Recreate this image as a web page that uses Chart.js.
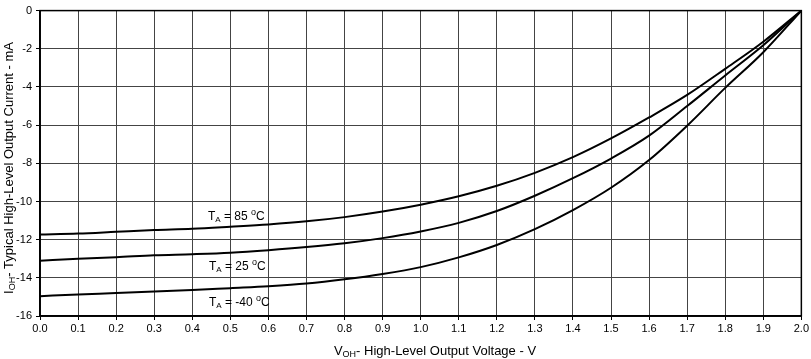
<!DOCTYPE html>
<html><head><meta charset="utf-8">
<script src="https://cdn.jsdelivr.net/npm/chart.js@4/dist/chart.umd.min.js"></script>
<style>html,body{margin:0;padding:0;background:#fff}#w{width:811px;height:359px;position:relative}</style>
</head><body><div id="w"><canvas id="c" width="811" height="359"></canvas></div>
<script>
const voltage = [0.0,0.1,0.2,0.3,0.4,0.5,0.6,0.7,0.8,0.9,1.0,1.1,1.2,1.3,1.4,1.5,1.6,1.7,1.8,1.9,2.0];
const current85 = [-11.73,-11.68,-11.59,-11.5,-11.43,-11.32,-11.2,-11.04,-10.82,-10.53,-10.17,-9.73,-9.18,-8.5,-7.68,-6.7,-5.6,-4.42,-3.05,-1.63,0];
const current25 = [-13.1,-13.0,-12.92,-12.82,-12.76,-12.68,-12.55,-12.39,-12.19,-11.92,-11.57,-11.12,-10.5,-9.7,-8.78,-7.75,-6.55,-5.0,-3.4,-1.82,0];
const currentM40 = [-14.96,-14.87,-14.8,-14.72,-14.64,-14.54,-14.44,-14.3,-14.08,-13.8,-13.44,-12.93,-12.28,-11.45,-10.45,-9.28,-7.83,-6.03,-4.05,-2.18,0];
const seriesTemps = ['85','25','-40'];
const labelPos = [[0.441,-10.97],[0.444,-13.59],[0.444,-15.5]];
const xTitle = ['V','OH','- High-Level Output Voltage - V'];
const yTitle = ['I','OH','- Typical High-Level Output Current - mA'];

const mk = (arr) => arr.map((v,i)=>({x:voltage[i],y:v}));
const ds = (arr) => ({data:mk(arr),borderColor:'#000',borderWidth:2,pointRadius:0,cubicInterpolationMode:'monotone',fill:false});
const FF = '"Liberation Sans", Arial, sans-serif';

function drawSub(ctx, x, y, parts, big, small){
  ctx.textBaseline='alphabetic';
  ctx.font = big+'px '+FF;
  ctx.fillText(parts[0], x, y); x += ctx.measureText(parts[0]).width;
  ctx.font = small+'px '+FF;
  ctx.fillText(parts[1], x, y+2); x += ctx.measureText(parts[1]).width;
  ctx.font = big+'px '+FF;
  ctx.fillText(parts[2], x, y);
}
function widthSub(ctx, parts, big, small){
  ctx.font = big+'px '+FF;
  let w = ctx.measureText(parts[0]).width + ctx.measureText(parts[2]).width;
  ctx.font = small+'px '+FF;
  return w + ctx.measureText(parts[1]).width;
}

const deco = {
  id:'deco',
  afterDraw(chart){
    const ctx = chart.ctx, xs = chart.scales.x, ys = chart.scales.y, a = chart.chartArea;
    ctx.save();
    ctx.fillStyle='#000';
    ctx.strokeStyle='#000'; ctx.lineWidth=1.5;
    ctx.strokeRect(a.left, a.top, a.right-a.left, a.bottom-a.top);
    seriesTemps.forEach((t,i)=>{
      const px = xs.getPixelForValue(labelPos[i][0]);
      const py = ys.getPixelForValue(labelPos[i][1]);
      let x = px;
      ctx.textBaseline='alphabetic';
      ctx.font='12px '+FF;
      ctx.fillText('T', x, py); x += ctx.measureText('T').width;
      ctx.font='8px '+FF;
      ctx.fillText('A', x, py+2); x += ctx.measureText('A').width;
      ctx.font='12px '+FF;
      const s1 = ' = '+t+' ';
      ctx.fillText(s1, x, py); x += ctx.measureText(s1).width;
      ctx.font='9px '+FF;
      ctx.fillText('o', x, py-5); x += ctx.measureText('o').width;
      ctx.font='12px '+FF;
      ctx.fillText('C', x, py);
    });
    const wx = widthSub(ctx, xTitle, 13, 9);
    drawSub(ctx, 435 - wx/2, 355, xTitle, 13, 9);
    ctx.translate(13, 168);
    ctx.rotate(-Math.PI/2);
    const wy = widthSub(ctx, yTitle, 13, 9);
    drawSub(ctx, -wy/2, 0, yTitle, 13, 9);
    ctx.restore();
  }
};

new Chart(document.getElementById('c'), {
  type:'line',
  data:{datasets:[ds(current85),ds(current25),ds(currentM40)]},
  options:{
    responsive:false, animation:false,
    layout:{padding:{left:0,right:9,top:4,bottom:0}},
    plugins:{legend:{display:false},tooltip:{enabled:false}},
    scales:{
      x:{type:'linear',min:0,max:2,
        afterFit(s){s.height=43;},
        ticks:{stepSize:0.1,autoSkip:false,maxRotation:0,color:'#000',padding:2,
          font:{family:FF,size:11},
          callback:(v)=>v.toFixed(1)},
        grid:{color:'#444',lineWidth:1,tickLength:4,tickColor:'#000'},
        border:{color:'#000',width:1.5}},
      y:{min:-16,max:0,
        afterFit(s){s.width=40;},
        ticks:{stepSize:2,color:'#000',padding:4,
          font:{family:FF,size:11}},
        grid:{color:'#444',lineWidth:1,tickLength:4,tickColor:'#000'},
        border:{color:'#000',width:1.5}}
    }
  },
  plugins:[deco]
});
</script></body></html>
